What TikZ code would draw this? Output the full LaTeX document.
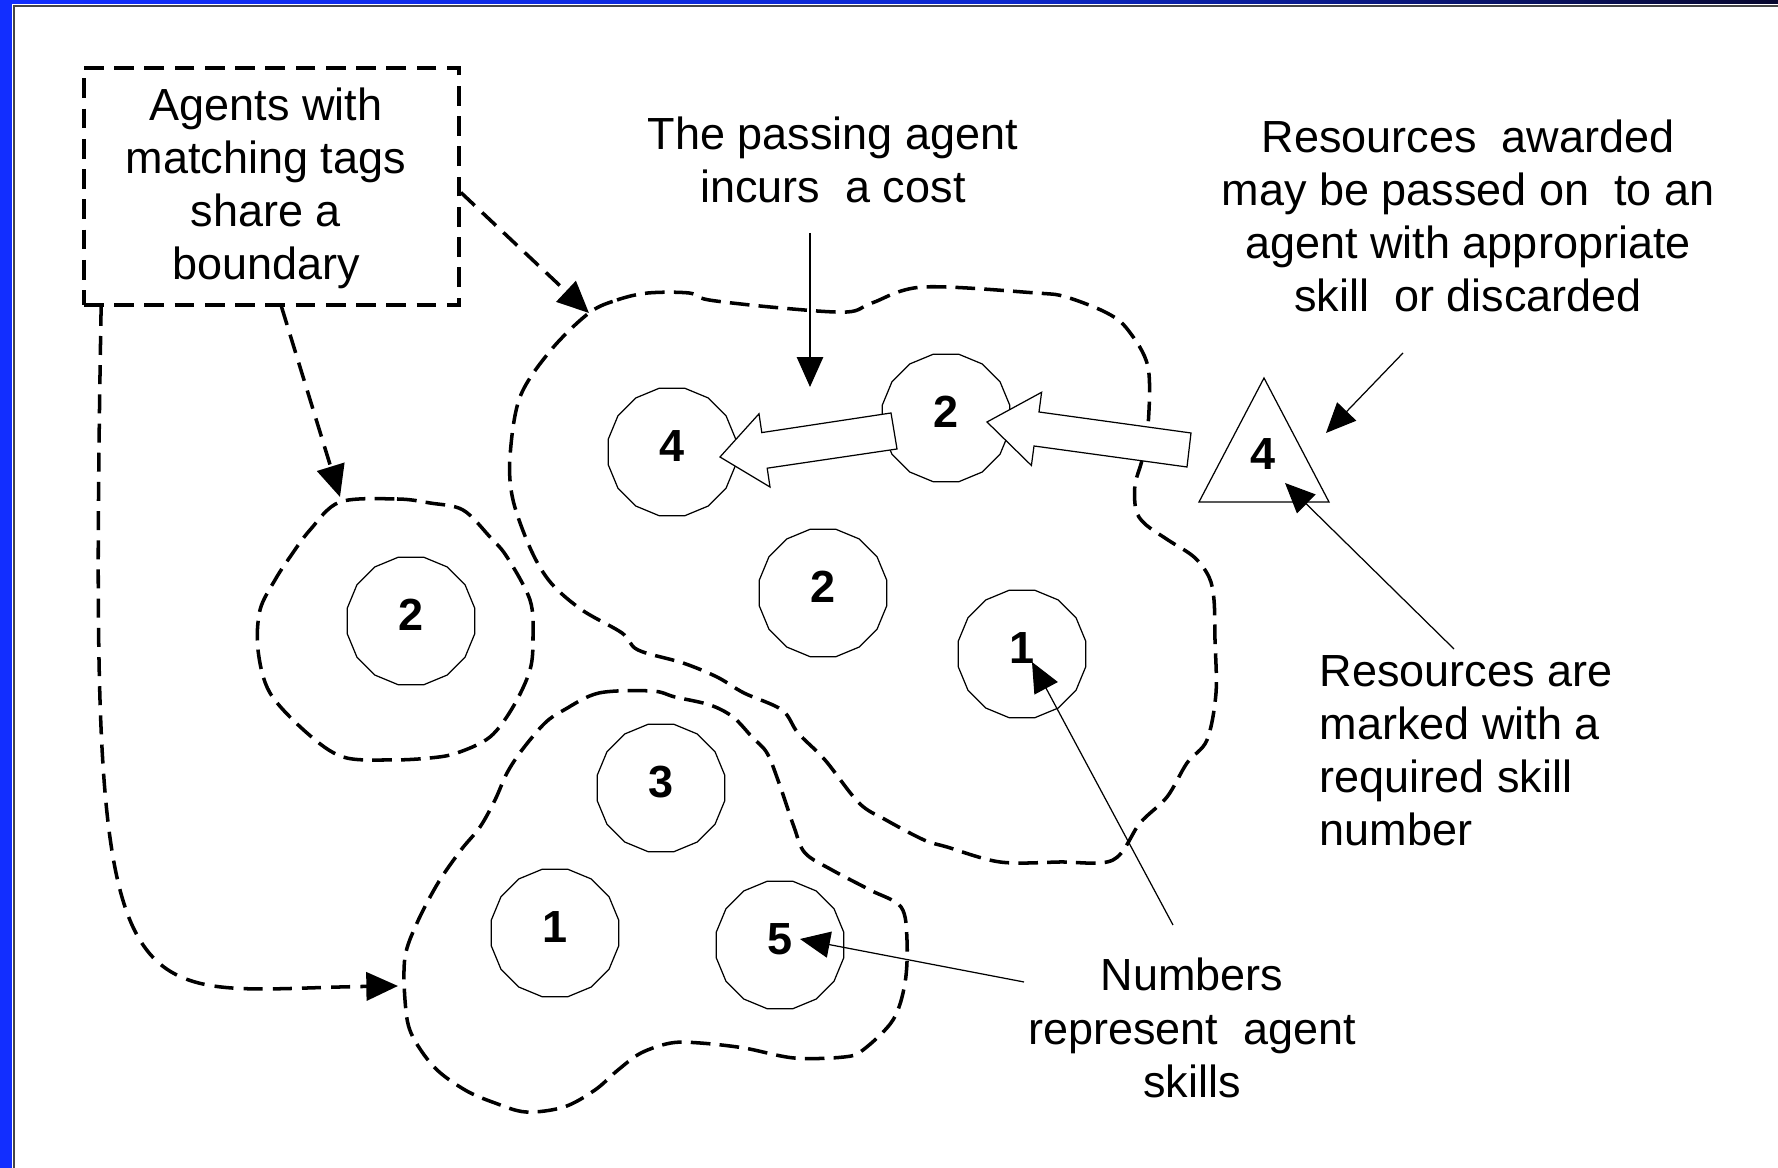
\documentclass[tikz,border=0pt]{standalone}
\usepackage{fontspec}
\setmainfont{Liberation Sans}
\usetikzlibrary{arrows.meta,shapes.geometric}
\definecolor{barblue}{RGB}{18,46,255}
\definecolor{barmid}{RGB}{12,40,205}
\definecolor{bardark}{RGB}{6,6,45}
\definecolor{edgegray}{RGB}{70,70,70}
\begin{document}
\begin{tikzpicture}[x=0.01cm,y=-0.01cm,
  lbl/.style={font=\fontsize{12.8pt}{15.1pt}\selectfont,align=center,inner sep=0pt},
  agent/.style={draw,line width=0.35pt,regular polygon,regular polygon sides=16,minimum size=1.3cm,inner sep=0pt,text depth=0.12cm,font=\fontsize{12.8pt}{15pt}\selectfont\bfseries},
  blob/.style={line width=1pt,dash pattern=on 5.6pt off 2.6pt},
  tagarrow/.style={line width=1pt,dash pattern=on 5.4pt off 2.9pt,-{Triangle[length=9pt,width=8pt]}},
  thinarrow/.style={line width=0.35pt,-{Triangle[length=8.5pt,width=7.5pt]}},
  blockarrow/.style={draw,fill=white,line width=0.35pt,line join=miter}]
\useasboundingbox (0,0) rectangle (1778,1168);
\fill[white] (0,0) rectangle (1778,1168);
% frame
\fill[barblue] (0,0) rectangle (12,1168);
\shade[left color=barblue,right color=barmid] (0,0) rectangle (1000,4);
\shade[left color=barmid,right color=bardark] (1000,0) rectangle (1778,4);
\draw[edgegray,line width=0.5pt] (14,1168) -- (14,6) -- (1778,6);

% tag boundaries
\draw[blob] plot[smooth cycle,tension=0.55] coordinates {(589,313) (617,300) (648,293) (689,293) (709,300) (781,308) (847,312) (872,303) (923,287) (1036,293) (1066,297) (1107,313) (1128,330) (1148,367) (1148,427) (1142,460) (1135,485) (1136,510) (1145,524) (1168,540) (1194,557) (1209,577) (1214,600) (1215,640) (1216,693) (1207,740) (1187,763) (1167,797) (1140,823) (1113,860) (1060,862) (1000,862) (947,847) (924,840) (886,820) (859,803) (825,760) (798,733) (782,710) (744,693) (717,677) (683,663) (638,650) (622,633) (582,610) (551,583) (531,550) (513,500) (510,457) (520,397) (551,350)};
\draw[blob] plot[smooth cycle,tension=0.55] coordinates {(340,502) (397,499) (430,503) (463,510) (490,537) (507,557) (530,600) (533,637) (530,670) (513,707) (490,737) (457,753) (430,758) (390,760) (343,757) (307,733) (270,693) (258,650) (260,610) (275,580) (290,557) (310,530)};
\draw[blob] plot[smooth cycle,tension=0.55] coordinates {(564,710) (599,693) (652,691) (675,697) (710,705) (733,717) (752,737) (767,753) (779,783) (794,827) (805,853) (832,870) (870,890) (901,907) (907,940) (905,983) (893,1020) (863,1050) (844,1057) (794,1058) (744,1048) (700,1043) (671,1043) (641,1053) (618,1070) (595,1090) (564,1107) (526,1112) (495,1103) (465,1090) (434,1067) (411,1033) (405,1000) (405,957) (417,923) (438,883) (461,850) (480,827) (495,800) (507,773) (522,750) (545,723)};

% agents
\node[agent] (c4) at (672,452) {4};
\node[agent] (c2a) at (946,418) {2};
\node[agent] (c2b) at (823,593) {2};
\node[agent] (c1a) at (1022,654) {1};
\node[agent] (c2c) at (411,621) {2};
\node[agent] (c3) at (661,788) {3};
\node[agent] (c1b) at (555,933) {1};
\node[agent] (c5) at (780,945) {5};

% resource
\draw[line width=0.35pt] (1264,378) -- (1329,502) -- (1199,502) -- cycle;
\node[inner sep=0pt,font=\fontsize{12.8pt}{15pt}\selectfont\bfseries] (res) at (1263,454) {4};

% block arrows (resource passing)
\draw[blockarrow] (1191,433) -- (1039,412) -- (1041.6,392.3) -- (987,422) -- (1031.4,465.5) -- (1034,446) -- (1187,467) -- cycle;
\draw[blockarrow] (891,413) -- (761.8,432.6) -- (759,413.8) -- (720,457) -- (770,487) -- (767.2,468.2) -- (897,449) -- cycle;

% labels
\node[draw,line width=1pt,dash pattern=on 5.6pt off 3pt,minimum width=3.75cm,minimum height=2.37cm,inner sep=0pt] (tagbox) at (271.5,186.5) {};
\node[lbl] (tagtext) at (266,188.5) {Agents with\\matching tags\\share a\\boundary};
\node[lbl] (lpass) at (833,160) {The passing agent\\incurs\ \ a cost};
\node[lbl] (lawd) at (1468,216) {Resources\ \ awarded\\may be passed on\ \ to an\\agent with appropriate\\skill\ \ or discarded};
\node[lbl,align=left,anchor=west] (lmark) at (1319,751) {Resources are\\marked with a\\required skill\\number};
\node[lbl] (lnum) at (1192,1028) {Numbers\\represent\ \ agent\\skills};

% connector end points
\coordinate (bigtop) at (589,313);
\coordinate (lefttop) at (340,497);
\coordinate (lowleft) at (398,986);
\coordinate (vtop) at (810,233);
\coordinate (vtip) at (810,387);
\coordinate (awdfrom) at (1403,353);
\coordinate (awdtip) at (1326,433);
\coordinate (mkfrom) at (1454,649);
\coordinate (mktip) at (1285,483);
\coordinate (numA) at (1173,925);
\coordinate (tipA) at (1032,662);
\coordinate (numB) at (1024,982);
\coordinate (tipB) at (800,939);

% dashed arrows from the tag box
\draw[tagarrow] ([yshift=-0.06cm]tagbox.east) -- (bigtop);
\draw[tagarrow] ([xshift=0.1cm]tagbox.south) -- (lefttop);
\draw[tagarrow] ([xshift=0.19cm]tagbox.south west) .. controls (88,1050) and (110,990) .. (lowleft);

% thin arrows
\draw[thinarrow] (vtop) -- (vtip);
\draw[thinarrow] (awdfrom) -- (awdtip);
\draw[thinarrow] (mkfrom) -- (mktip);
\draw[thinarrow] (numA) -- (tipA);
\draw[thinarrow] (numB) -- (tipB);
\end{tikzpicture}
\end{document}
